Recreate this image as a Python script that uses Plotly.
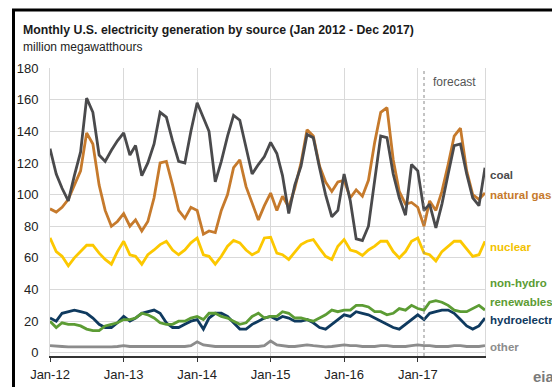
import pandas as pd
import plotly.graph_objects as go

# Monthly generation, Jan 2012 - Dec 2017 (million MWh); 2017 Feb onward is the forecast
months = pd.date_range("2012-01-01", "2017-12-01", freq="MS")

coal = [129, 113, 104, 96, 112, 127, 161, 152, 125, 121, 128, 134,
        139, 125, 131, 112, 120, 132, 152, 149, 134, 121, 120, 140,
        158, 148, 140, 108, 121, 137, 150, 147, 129, 113, 119, 124,
        133, 126, 112, 88, 106, 118, 138, 136, 117, 100, 86, 90,
        113, 96, 72, 71, 80, 110, 137, 136, 113, 98, 87, 119,
        115, 90, 94, 79, 94, 113, 131, 132, 113, 98, 93, 117]

natural_gas = [91, 89, 92, 97, 106, 115, 139, 132, 106, 90, 80, 83,
               88, 80, 84, 77, 83, 98, 120, 121, 106, 90, 85, 92,
               90, 75, 77, 76, 90, 100, 117, 122, 105, 94, 84, 93,
               101, 90, 99, 92, 104, 120, 141, 137, 118, 108, 102, 108,
               109, 98, 103, 99, 109, 133, 152, 155, 122, 102, 94, 95,
               92, 80, 96, 90, 102, 119, 137, 142, 115, 100, 97, 101]

nuclear = [72.6, 64, 61, 55, 60, 64, 68, 68, 63, 59, 56, 64,
           70.5, 62, 61, 56, 62, 65, 68.4, 70.5, 65, 62, 65, 69.5,
           72.6, 62, 61, 56, 61, 67.4, 71, 69.5, 65, 62, 64, 72.6,
           73, 63, 62, 59, 64, 68.4, 70.5, 71.6, 66, 61, 59, 67.4,
           71.6, 65, 64, 61.5, 65, 67.4, 70.5, 70.5, 64, 60, 64, 70.5,
           72.6, 63, 62, 58, 64, 67.4, 70.5, 70.5, 66, 61, 62, 70.5]

non_hydro = [20, 16, 19, 18, 18, 17, 15, 14, 14, 17, 18, 19,
             21, 21, 22, 25, 24, 22, 19, 18, 18, 20, 20, 22,
             23, 21, 25, 25, 23, 22, 20, 18, 19, 23, 25, 22,
             23, 23, 26, 25, 22, 22, 21, 20, 22, 24, 27, 26,
             27, 27, 30, 30, 29, 26, 26, 24, 25, 28, 27, 30,
             28, 27, 32, 33, 32, 30, 27, 26, 26, 28, 30, 27]

hydro = [22, 20, 25, 26, 27, 26, 25, 22, 18, 16, 16, 19,
         23, 20, 22, 25, 26, 27, 25, 19, 16, 16, 18, 20,
         21, 15, 22, 25, 25, 23, 19, 15, 15, 18, 20, 22,
         23, 21, 23, 22, 20, 20, 21, 19, 16, 15, 18, 21,
         24, 23, 26, 25, 24, 22, 20, 18, 16, 15, 18, 21,
         24, 21, 25, 26, 27, 27, 25, 21, 17, 15, 17, 22]

other = [4.5, 4, 4, 3.8, 3.8, 3.5, 3.5, 3.5, 3.5, 3.5, 3.8, 4,
         4.5, 4, 4, 3.8, 3.8, 3.8, 4, 4, 3.8, 3.8, 4, 4.5,
         7, 5, 4.5, 4, 4, 4, 4, 4, 3.8, 3.8, 4, 4.5,
         7.5, 5, 4.5, 4, 4, 4.5, 5, 4.5, 4, 3.8, 4, 4.5,
         5, 4.5, 4.5, 4, 4, 4, 4.5, 4.5, 4, 3.8, 4, 4.5,
         5, 4.5, 4.5, 4, 4, 4, 4.5, 4.5, 4, 3.8, 4, 4.5]

series = [
    ("other", other, "#8c8c8c"),
    ("hydroelectric", hydro, "#0f3a5f"),
    ("non-hydro renewables", non_hydro, "#5c9c34"),
    ("nuclear", nuclear, "#fcc800"),
    ("natural gas", natural_gas, "#c67a2c"),
    ("coal", coal, "#4a4a4c"),
]

tick_vals = pd.date_range("2012-01-01", "2017-01-01", freq="YS")
tick_text = ["Jan-12", "Jan-13", "Jan-14", "Jan-15", "Jan-16", "Jan-17"]
forecast_start = "2017-02-01"

FONT = "Liberation Sans, Arial, sans-serif"
W, H = 552, 387
L, R, T, B = 50, 67, 68, 31
PW, PH = W - L - R, H - T - B


def px(x):
    return (x - L) / PW


def py(y):
    return (H - B - y) / PH


fig = go.Figure()
for name, vals, color in series:
    fig.add_trace(go.Scatter(x=months, y=vals, mode="lines", name=name,
                             line=dict(color=color, width=2.8),
                             hoverinfo="x+y+name"))

annotations = [
    dict(text="<b>Monthly U.S. electricity generation by source (Jan 2012 - Dec 2017)</b>",
         x=px(21), y=py(30), font=dict(size=12.3, color="#1a1a1a", family=FONT),
         xanchor="left", yanchor="middle"),
    dict(text="million megawatthours", x=px(21), y=py(47),
         font=dict(size=12, color="#222222", family=FONT),
         xanchor="left", yanchor="middle"),
    dict(text="forecast", x=px(454), y=py(82),
         font=dict(size=12, color="#555555", family=FONT),
         xanchor="center", yanchor="middle"),
]
side_labels = [
    ("coal", 175, "#4a4a4c"),
    ("natural gas", 195, "#c67a2c"),
    ("nuclear", 247, "#f2c200"),
    ("non-hydro", 283, "#5c9c34"),
    ("renewables", 302, "#5c9c34"),
    ("hydroelectric", 320, "#0f3a5f"),
    ("other", 347, "#8c8c8c"),
]
for text, y, color in side_labels:
    annotations.append(dict(text="<b>" + text + "</b>", x=px(488), y=py(y),
                            font=dict(size=11.5, color=color, family=FONT),
                            xanchor="left", yanchor="middle"))
annotations.append(dict(text="<b>eia</b>", x=px(531), y=py(376),
                        font=dict(size=15, color="#7a7a7a", family=FONT),
                        xanchor="left", yanchor="middle"))
for a in annotations:
    a.update(xref="paper", yref="paper", showarrow=False)

shapes = [
    # dotted line marking the start of the forecast
    dict(type="line", xref="x", yref="paper", x0=forecast_start, x1=forecast_start,
         y0=0, y1=1, line=dict(color="#888888", width=1, dash="dot")),
    # page frame
    dict(type="line", xref="paper", yref="paper", x0=px(13.5), x1=px(13.5),
         y0=py(9), y1=py(387), line=dict(color="#000000", width=3)),
    dict(type="line", xref="paper", yref="paper", x0=px(12), x1=px(552),
         y0=py(10), y1=py(10), line=dict(color="#000000", width=3)),
]

fig.update_layout(
    width=W, height=H, autosize=False,
    margin=dict(l=L, r=R, t=T, b=B, pad=0, autoexpand=False),
    paper_bgcolor="white", plot_bgcolor="white",
    showlegend=False,
    font=dict(family=FONT, size=13, color="#222222"),
    annotations=annotations,
    shapes=shapes,
    xaxis=dict(range=[months[0], months[-1]], tickvals=tick_vals, ticktext=tick_text,
               automargin=False,
               showgrid=True, gridcolor="#d9d9d9", gridwidth=1,
               showline=True, linecolor="#333333", linewidth=1.5,
               ticks="outside", ticklen=4, tickcolor="#333333",
               ticklabelstandoff=2,
               tickfont=dict(size=13, color="#222222"), zeroline=False),
    yaxis=dict(range=[-2, 180], tickvals=list(range(0, 181, 20)),
               automargin=False,
               showgrid=True, gridcolor="#d9d9d9", gridwidth=1,
               showline=True, linecolor="#d9d9d9", linewidth=1, mirror=True,
               ticks="", ticklabelstandoff=8,
               tickfont=dict(size=13, color="#222222"), zeroline=False),
)

fig.write_html("out.html")
